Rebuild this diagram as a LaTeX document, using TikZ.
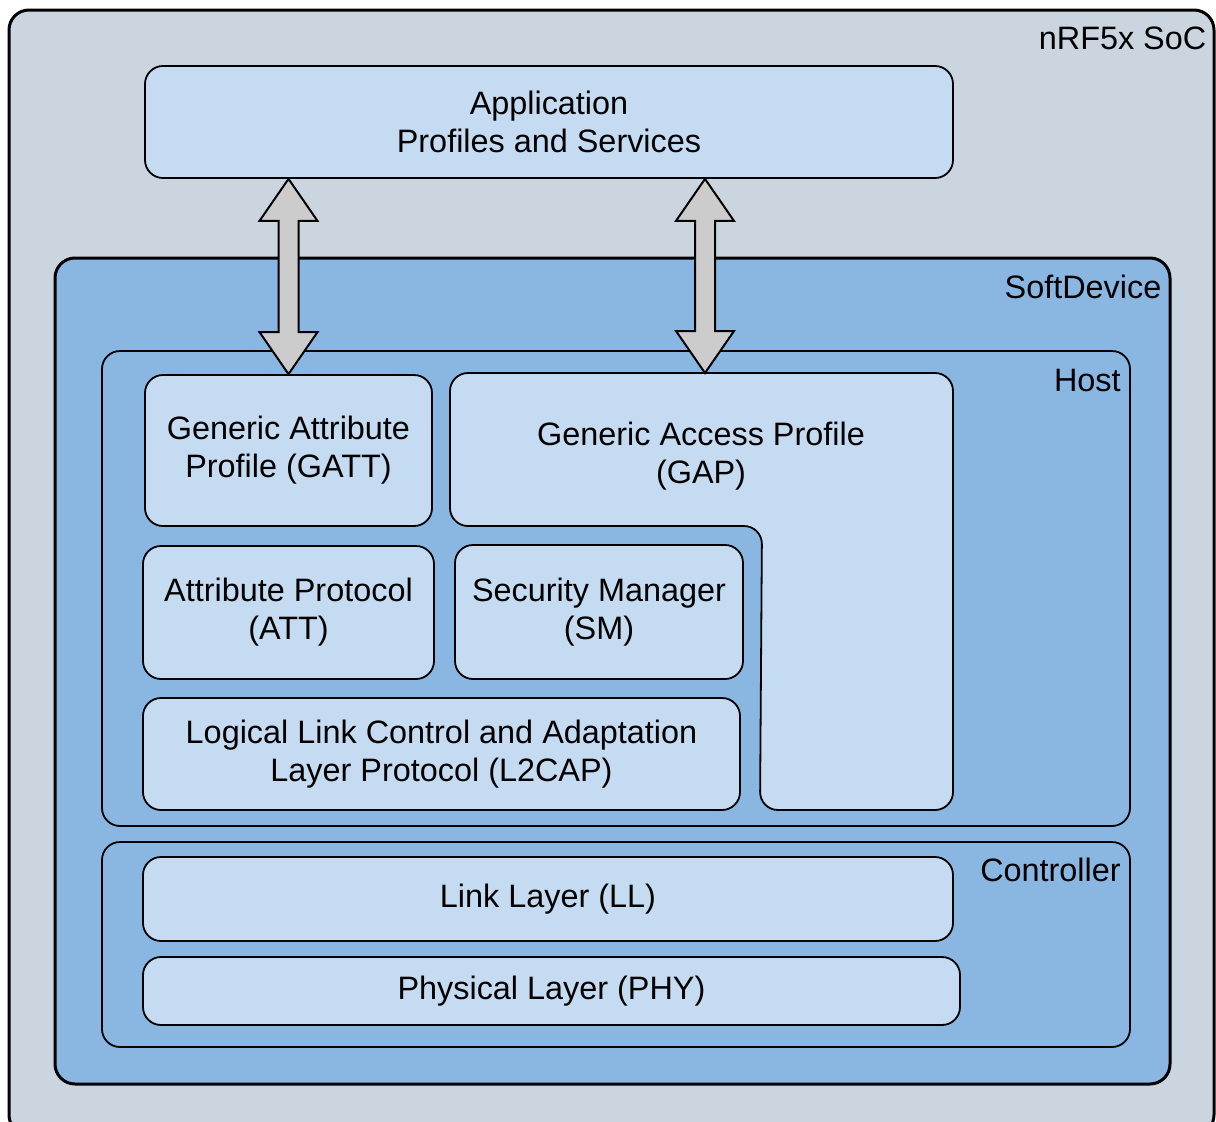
\documentclass[tikz,border=0pt]{standalone}
\usepackage{fontspec}
\setmainfont{Liberation Sans}
\usetikzlibrary{shapes, arrows, calc}
\definecolor{socgray}{RGB}{203,213,223}
\definecolor{sdblue}{RGB}{138,182,226}
\definecolor{cellblue}{RGB}{197,219,241}
\definecolor{arrowgray}{RGB}{204,204,204}
\tikzstyle{frame} = [rectangle, draw, line width=3pt, rounded corners=20pt]
\tikzstyle{group} = [rectangle, draw, line width=1.8pt, fill=sdblue, rounded corners=18pt]
\tikzstyle{cell} = [rectangle, draw, line width=1.8pt, fill=cellblue, rounded corners=18pt, align=center, text centered, font=\fontsize{32.4}{38}\selectfont]
\tikzstyle{tag} = [anchor=east, inner sep=0pt, font=\fontsize{32.4}{38}\selectfont]
\tikzstyle{line} = [draw, line width=2pt, fill=arrowgray, line join=miter]

\begin{document}
\begin{tikzpicture}[x=1pt, y=-1pt]
    \useasboundingbox (0,0) rectangle (1216,1122);
    \node[frame, fill=socgray, minimum width=1205pt, minimum height=1125pt](soc) at (611.5,572.5){};
    \node[tag] at ($(soc.north east)+(-9,30)$) {nRF5x SoC};

    \node[cell, minimum width=808pt, minimum height=112pt](app) at (549,122){Application\\Profiles and Services};

    \node[frame, fill=sdblue, minimum width=1115pt, minimum height=826pt](sd) at (612.5,671){};
    \node[tag] at ($(sd.north east)+(-10,30)$) {SoftDevice};

    % host
    \node[group, minimum width=1028pt, minimum height=475pt](host) at (616,588.5){};
    \node[tag] at ($(host.north east)+(-10,30)$) {Host};
    \node[cell, minimum width=287pt, minimum height=151pt](gatt) at (288.5,450.5){Generic Attribute\\Profile (GATT)};
    \draw[cell] (450,373) -- (953,373) -- (953,810) -- (760,810) -- (762,526) -- (450,526) -- cycle;
    \node[font=\fontsize{32.4}{38}\selectfont, align=center](gap) at (701,456){Generic Access Profile\\(GAP)};
    \coordinate (gaptop) at (705,373);
    \node[cell, minimum width=291pt, minimum height=133pt](att) at (288.5,612.5){Attribute Protocol\\(ATT)};
    \node[cell, minimum width=288pt, minimum height=134pt](sm) at (599,612){Security Manager\\(SM)};
    \node[cell, minimum width=597pt, minimum height=112pt](l2cap) at (441.5,754){Logical Link Control and Adaptation\\Layer Protocol (L2CAP)};

    % controller
    \node[group, minimum width=1028pt, minimum height=205pt](ctrl) at (616,944.5){};
    \node[tag] at ($(ctrl.north east)+(-10,29)$) {Controller};
    \node[cell, minimum width=810pt, minimum height=84pt](ll) at (548,899){Link Layer (LL)};
    \node[cell, minimum width=817pt, minimum height=68pt](phy) at (551.5,991){Physical Layer (PHY)};

    \coordinate (gattend) at (app.south -| gatt.north);
    \coordinate (gapend) at (app.south -| gaptop);
    \path[line] (gattend) -- ++(29,42) -- ++(-19,0) -- ($(gatt.north)+(10,-42)$) -- ++(19,0) -- (gatt.north) -- ++(-29,-42) -- ++(19,0) -- ($(gattend)+(-10,42)$) -- ++(-19,0) -- cycle;
    \path[line] (gapend) -- ++(29,42) -- ++(-19,0) -- ($(gaptop)+(10,-42)$) -- ++(19,0) -- (gaptop) -- ++(-29,-42) -- ++(19,0) -- ($(gapend)+(-10,42)$) -- ++(-19,0) -- cycle;
\end{tikzpicture}
\end{document}
